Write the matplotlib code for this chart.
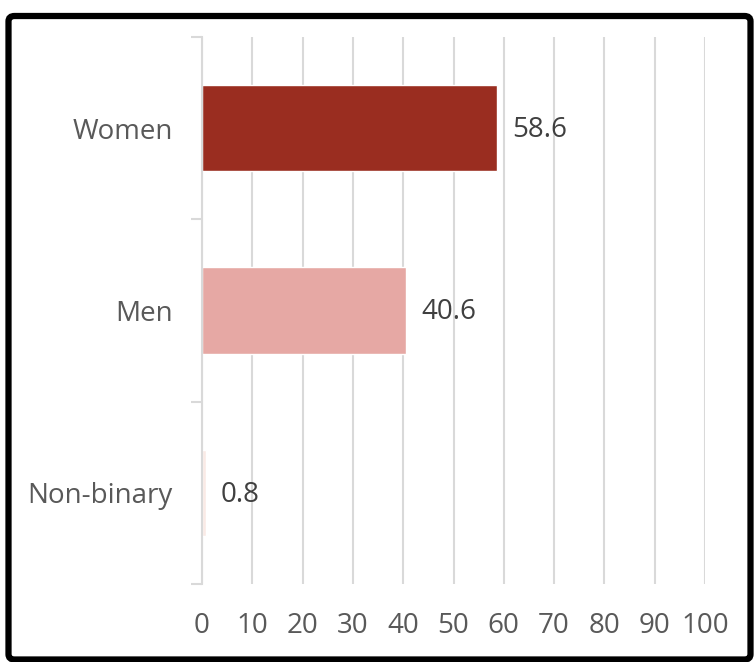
import matplotlib
matplotlib.use("Agg")
import matplotlib.pyplot as plt
from matplotlib.patches import FancyBboxPatch

categories = ["Women", "Men", "Non-binary"]
values = [58.6, 40.6, 0.8]
colors = ["#9A2D20", "#E6A8A4", "#FAEAE6"]
xticks = list(range(0, 101, 10))

plt.rcParams['font.family'] = ['Open Sans', 'DejaVu Sans']

fig = plt.figure(figsize=(7.54, 6.62), dpi=100)
ax = fig.add_axes([202/754, 1-584/662, (705-202)/754, (584-37)/662])

ypos = [2.5, 1.5, 0.5]
ax.barh(ypos, values, height=0.475, color=colors, edgecolor="white", linewidth=1, zorder=3)

for y, v in zip(ypos, values):
    ax.text(v + 3.0, y - 0.01, f"{v}", va="center", ha="left", fontsize=20, color="#404040")

ax.set_xlim(0, 100)
ax.set_ylim(0, 3)
ax.set_xticks(xticks)
ax.set_xticklabels([str(t) for t in xticks], fontsize=20, color="#595959")
ax.tick_params(axis='x', length=0, pad=20)

ax.set_yticks([0, 1, 2, 3])
ax.set_yticklabels([])
ax.set_yticks(ypos, minor=True)
ax.set_yticklabels(categories, minor=True, fontsize=20, color="#595959")
ax.tick_params(axis='y', which='major', length=8, color="#D9D9D9", width=1.5)
ax.tick_params(axis='y', which='minor', length=0, pad=21)

ax.grid(axis='x', color="#D9D9D9", linewidth=1.5, zorder=0)
for s in ["top", "right", "bottom"]:
    ax.spines[s].set_visible(False)
ax.spines["left"].set_color("#D9D9D9")
ax.spines["left"].set_linewidth(1.5)
ax.spines["left"].set_zorder(4)

border = FancyBboxPatch((8.5/754, 1-659.5/662), 742/754, (659.5-16)/662,
                        boxstyle="round,pad=0,rounding_size=0.008",
                        transform=fig.transFigure, fill=False,
                        edgecolor="black", linewidth=4.5)
fig.patches.append(border)

fig.savefig("out.png", dpi=100)
